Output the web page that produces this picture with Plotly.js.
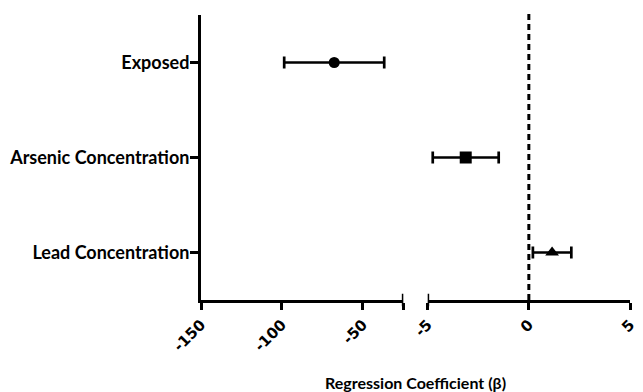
<!DOCTYPE html>
<html><head><meta charset="utf-8">
<script src="https://cdn.plot.ly/plotly-3.0.1.min.js"></script>
<style>html,body{margin:0;padding:0;background:#fff}#chart{width:643px;height:392px}</style>
</head><body><div id="chart"></div>
<script>
// Data
const categories = ['Lead Concentration', 'Arsenic Concentration', 'Exposed'];
const leftCats = ['Exposed'];
const leftBeta = [-67.7];
const leftErr = [30.9];
const rightCats = ['Arsenic Concentration', 'Lead Concentration'];
const rightBeta = [-3.12, 1.15];
const rightErr = [1.63, 0.95];
const rightSymbols = ['square', 'triangle-up'];
const leftTicks = [-150, -100, -50, -25];
const leftTickText = ['-150', '-100', '-50', ''];
const rightTicks = [-5, 0, 5];
const rightTickText = ['-5', '0', '5'];
const xTitle = 'Regression Coefficient (β)';

const FONT = 'Lato, "Open Sans", sans-serif';
const TICKFONT = '"DejaVu Sans", sans-serif';
const err = (a) => ({type: 'data', array: a, visible: true, color: '#000', thickness: 2.7, width: 6});

const traces = [
  {x: leftBeta, y: leftCats, type: 'scatter', mode: 'markers', xaxis: 'x', yaxis: 'y',
   marker: {symbol: 'circle', size: 11, color: '#000', opacity: 1, line: {width: 0}}, error_x: err(leftErr), showlegend: false, hoverinfo: 'x+y'},
  {x: rightBeta, y: rightCats, type: 'scatter', mode: 'markers', xaxis: 'x2', yaxis: 'y',
   marker: {symbol: rightSymbols, size: 12, color: '#000', opacity: 1, line: {width: 0}}, error_x: err(rightErr), showlegend: false, hoverinfo: 'x+y'}
];

const axisCommon = {
  showgrid: false, zeroline: false, showline: true, linecolor: '#000', linewidth: 3,
  ticks: 'outside', ticklen: 7, tickwidth: 3, tickcolor: '#000', tickangle: -45,
  tickfont: {family: TICKFONT, size: 15, color: '#000', weight: 'bold'}, fixedrange: true
};

const layout = {
  width: 643, height: 392,
  margin: {l: 201, r: 13, t: 15, b: 92},
  paper_bgcolor: '#fff', plot_bgcolor: '#fff',
  xaxis: Object.assign({}, axisCommon, {domain: [0, 0.4716], range: [-150, -25], tickmode: 'array',
    tickvals: leftTicks, ticktext: leftTickText, anchor: 'y'}),
  xaxis2: Object.assign({}, axisCommon, {domain: [0.5284, 1], range: [-5, 5], tickmode: 'array',
    tickvals: rightTicks, ticktext: rightTickText, anchor: 'y'}),
  yaxis: {
    type: 'category', categoryorder: 'array', categoryarray: categories, range: [-0.5, 2.5],
    showgrid: false, zeroline: false, showline: true, linecolor: '#000', linewidth: 3,
    ticks: 'outside', ticklen: 8, tickwidth: 3, tickcolor: '#000', ticklabelstandoff: -3,
    tickfont: {family: FONT, size: 18, color: '#000', weight: 'bold'}, fixedrange: true
  },
  shapes: [
    {type: 'line', xref: 'x2', yref: 'paper', x0: 0, x1: 0, y0: 0, y1: 1.01,
     line: {color: '#000', width: 3, dash: '6px,4px'}},
    {type: 'line', xref: 'x', yref: 'paper', x0: -25, x1: -25, y0: -0.022, y1: 0.022,
     line: {color: '#000', width: 3}},
    {type: 'line', xref: 'x2', yref: 'paper', x0: -5, x1: -5, y0: -0.022, y1: 0.022,
     line: {color: '#000', width: 3}}
  ],
  annotations: [
    {text: xTitle, xref: 'paper', yref: 'paper', x: 0.5, y: -0.29, xanchor: 'center', yanchor: 'middle',
     showarrow: false, font: {family: FONT, size: 16, color: '#000', weight: 'bold'}}
  ]
};

Plotly.newPlot('chart', traces, layout, {displayModeBar: false, staticPlot: true});
</script>
</body></html>
